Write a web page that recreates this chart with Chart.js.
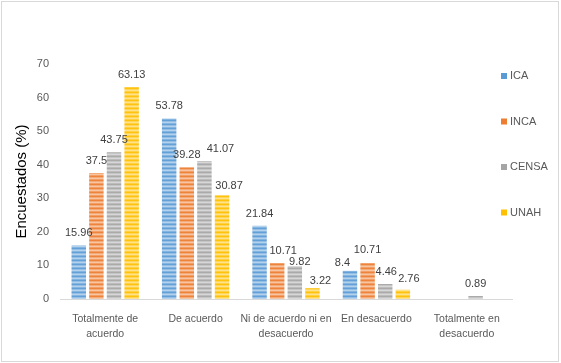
<!DOCTYPE html>
<html>
<head>
<meta charset="utf-8">
<script src="https://cdn.jsdelivr.net/npm/chart.js@4.4.0/dist/chart.umd.min.js"></script>
<style>
    html, body { margin: 0; padding: 0; background: #fff; }
    #wrap { width: 561px; height: 363px; }
</style>
</head>
<body>
<div id="wrap"><canvas id="myChart" width="561" height="363"></canvas></div>
<script>
// data
const categories = [["Totalmente de", "acuerdo"], "De acuerdo", ["Ni de acuerdo ni en", "desacuerdo"], "En desacuerdo", ["Totalmente en", "desacuerdo"]];
const seriesNames = ["ICA", "INCA", "CENSA", "UNAH"];
const icaValues = [15.96, 53.78, 21.84, 8.4, null];
const incaValues = [37.5, 39.28, 10.71, 10.71, null];
const censaValues = [43.75, 41.07, 9.82, 4.46, 0.89];
const unahValues = [63.13, 30.87, 3.22, 2.76, null];
const yTicks = [0, 10, 20, 30, 40, 50, 60, 70];

const seriesColors = ['#5B9BD5', '#ED7D31', '#A5A5A5', '#FFC000'];
const fontFamily = "'Liberation Sans', Arial, sans-serif";

const ctx = document.getElementById('myChart').getContext('2d');

function mixWhite(hex, m) {
    const r = parseInt(hex.slice(1, 3), 16), g = parseInt(hex.slice(3, 5), 16), b = parseInt(hex.slice(5, 7), 16);
    const f = v => Math.round(v + (255 - v) * m);
    return `rgb(${f(r)},${f(g)},${f(b)})`;
}

// horizontal stripes like the excel fill
function stripes(hex) {
    const c = document.createElement('canvas');
    c.width = 8; c.height = 4;
    const g = c.getContext('2d');
    [0.05, 0.35, 0.55, 0.25].forEach((m, i) => {
        g.fillStyle = mixWhite(hex, m);
        g.fillRect(0, i, 8, 1);
    });
    return ctx.createPattern(c, 'repeat');
}

const allValues = [icaValues, incaValues, censaValues, unahValues];

// small shifts excel made to avoid overlapping labels (datasetIndex-index)
const labelNudge = {
    '2-1': [16, 0], '3-1': [7, 3],
    '1-2': [6, 0], '2-2': [5, 8], '3-2': [8, 5],
    '0-3': [-7.5, 4], '1-3': [0, -1], '2-3': [1, 0], '3-3': [6, 1]
};

const valueLabels = {
    id: 'valueLabels',
    afterDatasetsDraw(chart) {
        const c = chart.ctx;
        c.save();
        c.font = `11px ${fontFamily}`;
        c.fillStyle = '#404040';
        c.textAlign = 'center';
        c.textBaseline = 'alphabetic';
        chart.data.datasets.forEach((ds, di) => {
            chart.getDatasetMeta(di).data.forEach((bar, i) => {
                const v = ds.data[i];
                if (v === null || v === undefined) return;
                const n = labelNudge[di + '-' + i] || [0, 0];
                c.fillText(String(v), bar.x + n[0], bar.y - 9 + n[1]);
            });
        });
        c.restore();
    }
};

const sideLegend = {
    id: 'sideLegend',
    afterDraw(chart) {
        const c = chart.ctx;
        c.save();
        c.font = `11px ${fontFamily}`;
        c.textBaseline = 'middle';
        c.textAlign = 'left';
        chart.data.datasets.forEach((ds, i) => {
            const y = 76 + i * 45.5;
            c.fillStyle = seriesColors[i];
            c.fillRect(501, y - 3, 6, 6);
            c.fillStyle = '#595959';
            c.fillText(ds.label, 510, y);
        });
        c.restore();
    }
};

const frame = {
    id: 'frame',
    beforeDraw(chart) {
        const c = chart.ctx;
        c.save();
        c.fillStyle = '#fff';
        c.fillRect(0, 0, chart.width, chart.height);
        c.strokeStyle = '#D9D9D9';
        c.lineWidth = 1;
        c.strokeRect(1.5, 1.5, 557, 360);
        c.restore();
    }
};

new Chart(ctx, {
    type: 'bar',
    data: {
        labels: categories,
        datasets: seriesNames.map((name, i) => ({
            label: name,
            data: allValues[i],
            backgroundColor: stripes(seriesColors[i]),
            borderWidth: 0,
            categoryPercentage: 0.78,
            barPercentage: 0.82
        }))
    },
    options: {
        responsive: false,
        animation: false,
        devicePixelRatio: 1,
        layout: {padding: {left: 9, top: 64, right: 49, bottom: 0}},
        plugins: {
            legend: {display: false},
            tooltip: {enabled: false}
        },
        scales: {
            x: {
                grid: {display: false},
                border: {display: true, color: '#D9D9D9', width: 1},
                ticks: {
                    color: '#595959',
                    font: {family: fontFamily, size: 10.5, lineHeight: 1.4},
                    padding: 5,
                    maxRotation: 0,
                    autoSkip: false
                },
                afterFit(scale) { scale.height = 64; }
            },
            y: {
                min: yTicks[0],
                max: yTicks[yTicks.length - 1],
                afterBuildTicks(scale) { scale.ticks = yTicks.map(v => ({value: v})); },
                grid: {display: false},
                border: {display: false},
                ticks: {
                    color: '#595959',
                    font: {family: fontFamily, size: 11},
                    padding: 3
                },
                title: {
                    display: true,
                    text: 'Encuestados (%)',
                    color: '#000',
                    font: {family: fontFamily, size: 15}
                },
                afterFit(scale) { scale.width = 51; }
            }
        }
    },
    plugins: [frame, valueLabels, sideLegend]
});
</script>
</body>
</html>
